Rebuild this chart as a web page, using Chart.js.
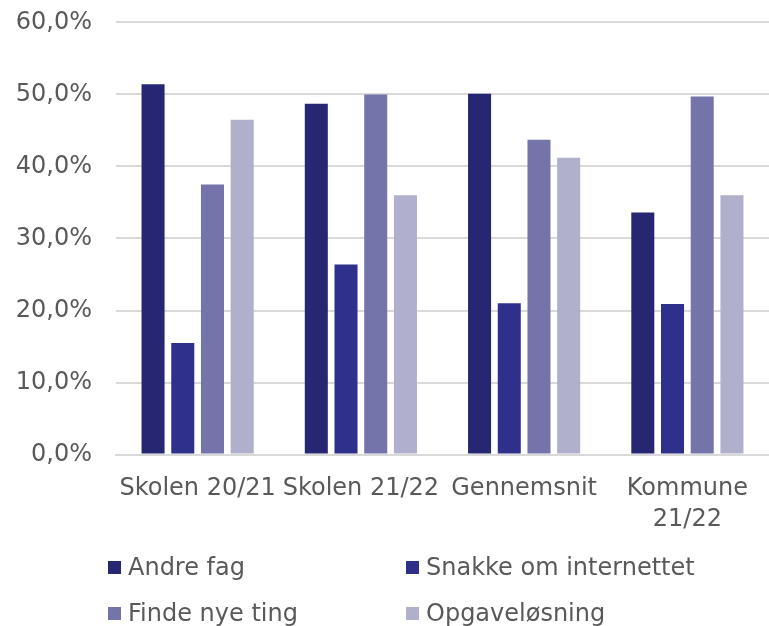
<!DOCTYPE html>
<html>
<head>
<meta charset="utf-8">
<script src="https://cdn.jsdelivr.net/npm/chart.js@4/dist/chart.umd.min.js"></script>
<style>
  html, body { margin: 0; padding: 0; background: #fff; overflow: hidden; }
  #wrap { position: absolute; left: 0; top: -16px; width: 769px; height: 570px; }
  #legend { position: absolute; left: 108px; top: 553px; width: 660px;
    display: grid; grid-template-columns: 298px 340px; row-gap: 18px;
    font-family: "DejaVu Sans", sans-serif; font-size: 24px; color: #595959; }
  #legend .item { display: flex; align-items: center; height: 28px; white-space: nowrap; }
  #legend .box { width: 13px; height: 13px; margin-right: 7px; flex: none; }
</style>
</head>
<body>
<div id="wrap"><canvas id="c" width="769" height="570"></canvas></div>
<div id="legend"></div>
<script>
const categories = ["Skolen 20/21", "Skolen 21/22", "Gennemsnit", ["Kommune", "21/22"]];
const seriesNames = ["Andre fag", "Snakke om internettet", "Finde nye ting", "Opgaveløsning"];
const andreFag = [51.4, 48.7, 50.1, 33.6];
const snakkeOmInternettet = [15.5, 26.4, 21.0, 20.9];
const findeNyeTing = [37.5, 50.0, 43.7, 49.7];
const opgaveloesning = [46.5, 36.0, 41.2, 36.0];
const yTicks = [0, 10, 20, 30, 40, 50, 60];
const colors = ["#262673", "#2f2f8c", "#7474ab", "#b0b0cc"];

const seriesValues = [andreFag, snakkeOmInternettet, findeNyeTing, opgaveloesning];

const chart = new Chart(document.getElementById('c'), {
  type: 'bar',
  data: {
    labels: categories,
    datasets: seriesNames.map((name, i) => ({
      label: name,
      data: seriesValues[i],
      backgroundColor: colors[i],
      borderWidth: 0,
      categoryPercentage: 0.728,
      barPercentage: 0.775
    }))
  },
  options: {
    responsive: false,
    animation: false,
    layout: { padding: { left: 14, right: 0, top: 0, bottom: 0 } },
    plugins: { legend: { display: false }, tooltip: { enabled: false } },
    scales: {
      x: {
        grid: { display: false, drawTicks: false },
        border: { display: true, color: '#d9d9d9', width: 2 },
        ticks: {
          autoSkip: false, maxRotation: 0, minRotation: 0, padding: 19,
          color: '#595959',
          font: { family: '"DejaVu Sans", sans-serif', size: 24, lineHeight: 1.28 }
        }
      },
      y: {
        min: 0, max: 60,
        afterBuildTicks: (axis) => { axis.ticks = yTicks.map(v => ({ value: v })); },
        afterFit: (axis) => { axis.width = 102; },
        grid: { color: '#d9d9d9', lineWidth: 2, drawTicks: false },
        border: { display: false },
        ticks: {
          padding: 24,
          color: '#595959',
          font: { family: '"DejaVu Sans", sans-serif', size: 24 },
          callback: (v) => v.toFixed(1).replace('.', ',') + '%'
        }
      }
    }
  }
});

const legend = document.getElementById('legend');
chart.data.datasets.forEach((ds) => {
  const item = document.createElement('div');
  item.className = 'item';
  const box = document.createElement('span');
  box.className = 'box';
  box.style.background = ds.backgroundColor;
  const txt = document.createElement('span');
  txt.textContent = ds.label;
  item.appendChild(box); item.appendChild(txt);
  legend.appendChild(item);
});
</script>
</body>
</html>
